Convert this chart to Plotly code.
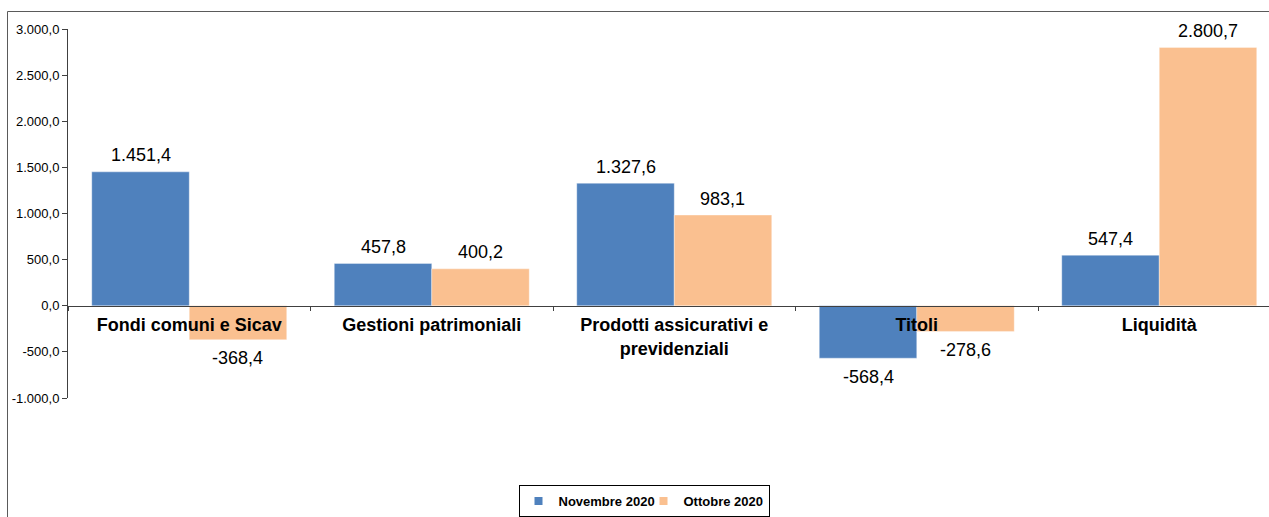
import plotly.graph_objects as go

categories = ["Fondi comuni e Sicav", "Gestioni patrimoniali",
              "Prodotti assicurativi e<br>previdenziali", "Titoli", "Liquidità"]
series_names = ["Novembre 2020", "Ottobre 2020"]
novembre = [1451.4, 457.8, 1327.6, -568.4, 547.4]
ottobre = [-368.4, 400.2, 983.1, -278.6, 2800.7]
colors = ["#4F81BD", "#FAC090"]
y_tickvals = [-1000, -500, 0, 500, 1000, 1500, 2000, 2500, 3000]


def it_fmt(v):
    s = f"{abs(v):,.1f}".replace(",", "X").replace(".", ",").replace("X", ".")
    return ("-" if v < 0 else "") + s


W, H = 1269, 517
ML, MT = 68, 29
PLOT_BOTTOM = 398
MB = H - PLOT_BOTTOM
plot_w = W - ML
plot_h = PLOT_BOTTOM - MT
cat_w = 242.5
bargap = 0.196
bar_w_px = cat_w * (1 - bargap) / 2
FONT = "Arial, Liberation Sans"

fig = go.Figure()
for name, vals, col in zip(series_names, [novembre, ottobre], colors):
    fig.add_trace(go.Bar(
        x=categories, y=vals, name=name, legendgroup=name, showlegend=False,
        marker=dict(color=col, line=dict(color="rgba(255,255,255,0.35)", width=1)),
        hoverinfo="skip",
    ))
# legend-only entries with small square keys
for name, col in zip(series_names, colors):
    fig.add_trace(go.Scatter(
        x=[None], y=[None], mode="markers", name=name, legendgroup=name,
        marker=dict(symbol="square", size=8, color=col), showlegend=True,
    ))

annotations = []
for k, vals in enumerate([novembre, ottobre]):
    xs = (-1 if k == 0 else 1) * bar_w_px / 2
    for c, v in zip(categories, vals):
        annotations.append(dict(
            x=c, y=v, xref="x", yref="y", text=it_fmt(v), showarrow=False,
            xshift=xs, yshift=16.5 if v >= 0 else -18.5, yanchor="middle",
            font=dict(family=FONT, size=18, color="#000000"),
        ))

fig.update_layout(
    width=W, height=H,
    margin=dict(l=ML, r=0, t=MT, b=MB),
    paper_bgcolor="white", plot_bgcolor="white",
    barmode="group", bargap=bargap, bargroupgap=0,
    separators=",.",
    font=dict(family=FONT, color="#000000"),
    annotations=annotations,
    showlegend=True,
    legend=dict(
        orientation="h", x=(644 - ML) / plot_w, xanchor="center",
        y=(PLOT_BOTTOM - 501.5) / plot_h, yanchor="middle",
        bordercolor="#000000", borderwidth=1, bgcolor="white",
        font=dict(family=FONT, size=13, color="#000000", weight="bold"),
        itemwidth=30, tracegroupgap=0, entrywidth=80,
    ),
    shapes=[dict(
        type="rect", xref="paper", yref="paper",
        x0=(7.5 - ML) / plot_w, x1=1.05,
        y0=-0.5, y1=(PLOT_BOTTOM - 11.5) / plot_h,
        line=dict(color="#5a5a5a", width=1), fillcolor="rgba(0,0,0,0)", layer="below",
    )],
)

fig.update_xaxes(
    type="category",
    range=[-0.5, -0.5 + plot_w / cat_w],
    anchor="free", position=0.25,
    showline=True, linecolor="#404040", linewidth=1,
    ticks="outside", ticklen=4, tickcolor="#404040", tickson="boundaries",
    showgrid=False, zeroline=False,
    tickfont=dict(family=FONT, size=18, color="#000000", weight="bold"),
    ticklabelstandoff=3,
    fixedrange=True,
)
fig.update_yaxes(
    range=[-1000, 3000],
    tickvals=y_tickvals, ticktext=[it_fmt(v) for v in y_tickvals],
    showline=True, linecolor="#404040", linewidth=1,
    ticks="outside", ticklen=5, tickcolor="#404040",
    showgrid=False, zeroline=False,
    tickfont=dict(family=FONT, size=13, color="#000000"),
    fixedrange=True,
)

fig.write_html(
    "out.html",
    config={"displayModeBar": False, "staticPlot": True},
    post_script="document.body.style.margin='0';document.body.style.overflow='hidden';",
)
